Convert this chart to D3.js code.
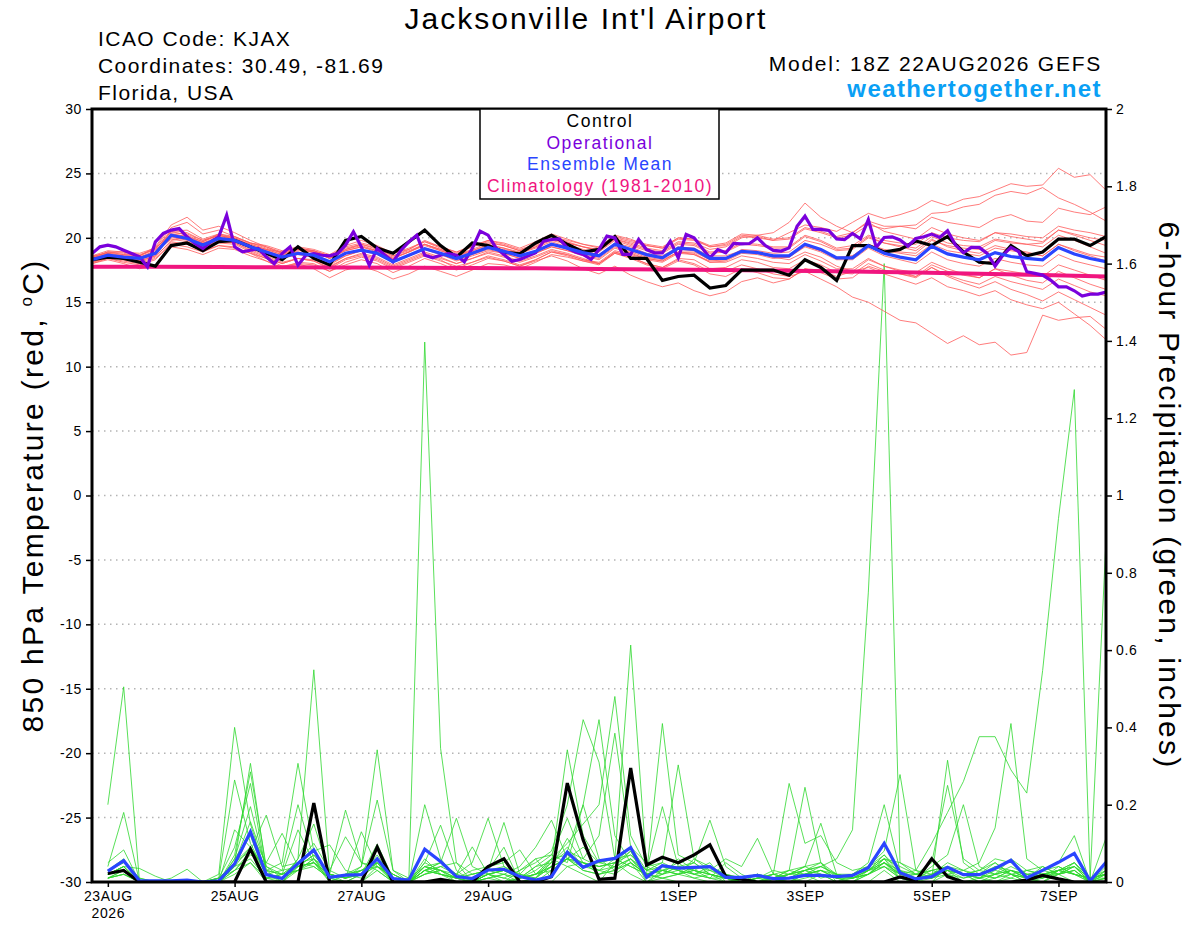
<!DOCTYPE html>
<html lang="en">
<head>
<meta charset="UTF-8">
<title>Jacksonville Int'l Airport - GEFS meteogram</title>
<script src="https://d3js.org/d3.v7.min.js"></script>
<style>
  body { margin: 0; background: #fff; }
  svg { display: block; font-family: "Liberation Sans", Arial, Helvetica, sans-serif; }
  .tick text { font-size: 14px; fill: #000; letter-spacing: 0.6px; }
  .tick line { stroke: #000; stroke-width: 1.5; }
</style>
</head>
<body>
<svg id="chart" width="1200" height="927"></svg>
<script>
// ---------------- data ----------------
const runTime = "2026-08-22T18:00Z";
const tickDates = ["2026-08-23", "2026-08-25", "2026-08-27", "2026-08-29",
                   "2026-09-01", "2026-09-03", "2026-09-05", "2026-09-07"];
const tempTicks = [-30, -25, -20, -15, -10, -5, 0, 5, 10, 15, 20, 25, 30];
const precipTicks = [0, 0.2, 0.4, 0.6, 0.8, 1, 1.2, 1.4, 1.6, 1.8, 2];
const legendItems = ["Control", "Operational", "Ensemble Mean", "Climatology (1981-2010)"];

// 850 hPa temperature, 6-hourly from 18Z 22AUG (65 values)
const tempControl = [
  18.3,18.5,18.4,18.1,17.8,19.4,19.6,19.0,19.7,19.8,
  19.3,18.8,18.3,19.3,18.4,17.9,19.8,20.1,19.2,18.8,
  19.7,20.6,19.4,18.5,19.6,19.4,18.9,18.75,19.6,20.2,
  19.5,18.9,19.1,20.1,18.4,18.4,16.7,17.0,17.1,16.1,
  16.3,17.5,17.5,17.5,17.1,18.3,17.7,16.7,19.4,19.4,
  18.9,19.1,19.75,19.4,20.1,18.9,18.1,18.0,19.4,18.6,
  18.9,19.9,19.9,19.4,20.1];
const tempMean = [
  18.3,18.65,18.5,18.4,18.8,20.2,19.95,19.45,19.95,19.8,
  19.3,18.9,18.5,18.8,18.65,18.15,18.8,19.05,18.8,18.15,
  18.65,19.15,18.8,18.4,18.8,19.25,18.95,18.6,18.95,19.5,
  19.2,18.85,18.6,19.5,19.1,18.7,18.45,19.2,19.1,18.4,
  18.4,18.95,18.85,18.6,18.6,19.5,19.1,18.45,18.45,19.4,
  18.8,18.5,18.3,19.35,18.75,18.5,18.3,18.85,18.55,18.4,
  18.3,19.25,18.75,18.4,18.15];
// operational run, 3-hourly (129 values)
const tempOper = [
  18.78,19.3,19.43,19.3,19.04,18.78,18.53,17.75,19.69,20.34,
  20.6,20.72,20.08,19.56,19.17,19.69,20.08,21.76,19.3,18.91,
  19.04,19.17,18.53,18.0,18.78,19.3,17.88,18.65,18.78,18.65,
  18.6,18.78,19.43,20.47,19.3,17.88,19.17,18.65,18.14,19.04,
  19.69,20.21,18.65,18.45,18.65,18.78,18.65,18.14,19.17,20.52,
  20.21,19.22,18.7,18.19,18.32,18.58,18.84,19.74,19.87,19.92,
  19.22,18.89,18.71,18.32,19.09,20.13,20.0,18.71,18.71,19.87,
  19.09,18.84,18.84,19.74,18.45,20.26,20.0,19.22,18.45,19.09,
  18.84,19.56,19.53,19.56,20.0,19.4,19.02,18.97,19.22,20.9,
  21.68,20.65,20.65,20.57,19.92,19.87,20.34,19.92,21.42,19.26,
  20.03,20.08,19.83,19.36,19.95,20.08,20.29,20.03,20.55,19.44,
  18.84,19.26,19.26,18.79,17.81,18.66,19.26,18.92,17.37,17.24,
  17.11,16.72,16.2,16.2,15.89,15.48,15.63,15.63,15.79];
// climatology, daily from 18Z 22AUG (17 values)
const tempClimo = [17.76,17.75,17.73,17.72,17.7,17.68,17.66,17.63,17.59,
                   17.55,17.5,17.45,17.39,17.31,17.22,17.12,17.0];
// ensemble members, 6-hourly (65 values each)
const tempMembers = [
  [18.5,18.9,18.8,18.6,19.2,20.8,21.2,20.3,20.6,20.1, 19.6,19.4,19.0,19.3,19.1,18.7,19.4,19.8,19.4,18.8,
   19.1,19.8,19.3,18.9,19.4,19.8,19.6,19.2,19.7,20.3, 19.9,19.5,19.3,20.2,19.9,19.4,19.2,20.0,19.9,19.3,
   19.5,20.2,20.1,19.8,20.4,21.0,20.8,20.5,21.2,21.9, 21.5,21.8,22.2,22.9,22.5,23.0,23.2,23.7,24.2,24.0,
   24.1,25.4,24.7,24.9,23.7],
  [18.0,18.4,18.1,17.9,18.3,19.6,19.5,19.0,19.4,19.2, 18.8,18.2,17.6,18.0,17.9,17.4,18.1,18.5,18.2,17.6,
   18.1,18.6,18.2,17.8,18.1,18.6,18.3,17.9,18.3,18.9, 18.6,18.2,17.9,18.8,18.5,18.0,17.7,18.3,18.0,17.4,
   17.4,17.9,17.6,17.2,17.0,17.4,16.8,16.2,15.4,15.0, 14.3,13.6,13.4,12.6,11.8,12.4,11.7,11.9,10.9,11.1,
   14.0,13.6,13.8,13.9,12.9],
  [18.6,18.8,18.3,18.2,18.6,20.4,20.3,19.8,20.2,19.9, 19.5,19.1,18.7,18.9,18.5,17.9,18.6,19.0,18.9,18.4,
   18.9,19.5,19.0,18.6,18.9,19.3,19.1,18.8,19.2,19.7, 19.3,19.0,18.7,19.6,19.3,18.8,18.6,19.3,19.2,18.6,
   18.6,19.0,18.8,18.5,18.3,18.9,18.5,17.8,17.4,17.7, 17.2,16.8,16.4,16.9,16.2,15.9,15.5,15.9,15.2,14.8,
   14.5,15.0,14.1,13.2,12.1],
  [18.1,18.5,18.6,18.5,18.9,19.9,19.7,19.3,19.7,19.6, 19.0,18.5,18.0,18.4,18.2,17.6,18.3,18.6,18.3,17.7,
   18.2,18.7,18.3,17.6,18.1,18.5,18.2,17.8,18.2,18.6, 18.2,17.6,17.2,17.8,17.1,16.6,16.2,16.5,15.9,15.5,
   15.8,16.6,16.9,16.5,16.8,17.6,17.5,17.0,17.4,18.3, 17.8,17.5,17.3,18.1,17.6,17.2,16.9,17.6,17.1,16.7,
   16.5,17.4,16.9,16.4,16.0],
  [18.4,18.7,18.4,18.3,18.9,20.5,20.6,19.9,20.3,20.0, 19.4,19.0,18.6,19.0,18.9,18.5,19.1,19.4,19.0,18.5,
   18.9,19.5,19.1,18.7,19.1,19.6,19.4,19.0,19.4,19.9, 19.6,19.3,19.0,19.9,19.6,19.2,19.0,19.7,19.6,19.1,
   19.3,20.0,20.2,20.4,21.2,22.7,21.6,20.9,20.4,21.2, 20.5,20.2,19.9,20.8,20.3,20.0,19.8,20.4,20.1,19.9,
   19.7,20.6,20.2,19.8,19.4],
  [18.2,18.8,18.7,18.6,19.3,21.0,21.6,20.6,20.9,20.4, 19.8,19.3,18.8,19.1,18.9,18.4,19.0,19.3,18.9,18.3,
   18.6,19.1,18.7,18.2,18.6,19.0,18.8,18.4,18.8,19.3, 19.0,18.6,18.3,19.2,18.8,18.4,18.2,18.9,18.8,18.1,
   18.2,18.8,18.7,18.4,18.5,19.4,19.0,18.4,18.6,19.5, 19.1,18.9,18.8,19.8,19.4,19.2,19.1,19.8,19.6,19.5,
   19.6,20.6,20.3,20.0,19.8],
  [18.0,18.3,18.0,17.6,17.9,19.3,19.1,18.7,19.2,19.1, 18.6,18.2,17.7,18.1,18.0,17.4,17.9,18.3,18.0,17.3,
   17.8,18.4,18.0,17.5,17.9,18.4,18.2,17.8,18.3,18.9, 18.7,18.3,18.1,19.0,18.7,18.4,18.2,18.9,18.9,18.3,
   18.4,19.1,19.0,18.8,18.9,19.8,19.5,19.0,19.1,20.0, 19.6,19.4,19.2,20.1,19.6,19.4,19.3,19.9,19.7,19.5,
   19.3,20.2,19.8,19.3,18.8],
  [18.5,18.6,18.3,18.1,18.5,19.8,20.0,19.6,19.9,19.7, 19.3,19.1,18.9,19.2,19.0,18.6,19.3,19.6,19.3,18.8,
   19.2,19.7,19.2,18.8,19.3,19.7,19.4,19.0,19.5,20.1, 19.8,19.5,19.2,20.1,19.8,19.5,19.3,20.0,19.9,19.4,
   19.6,20.3,20.2,19.9,20.0,20.8,20.5,20.1,20.4,21.3, 20.9,20.9,20.7,21.6,21.2,21.0,20.8,21.5,21.8,21.3,
   21.2,22.3,22.0,21.8,22.4],
  [18.3,18.6,18.4,18.3,18.7,20.1,19.8,19.3,19.8,19.6, 19.1,18.6,18.1,18.4,18.2,17.7,18.4,18.8,18.5,17.9,
   18.4,18.9,18.5,18.0,18.4,18.9,18.6,18.2,18.6,19.1, 18.8,18.4,18.0,18.9,18.5,18.0,17.7,18.4,18.3,17.6,
   17.7,18.3,18.1,17.7,17.6,18.3,17.9,17.3,17.2,18.0, 17.5,17.2,16.9,17.7,17.1,16.7,16.4,17.0,16.6,16.3,
   16.0,16.8,16.3,15.8,15.5],
  [18.4,18.8,18.6,18.5,19.0,20.3,20.1,19.6,20.1,19.9, 19.4,19.0,18.5,18.8,18.6,18.1,18.8,19.1,18.8,18.1,
   18.6,19.2,18.8,18.4,18.8,19.3,19.0,18.5,18.9,19.5, 19.1,18.8,18.5,19.4,19.0,18.6,18.4,19.1,19.0,18.3,
   18.3,18.9,18.8,18.5,18.5,19.3,18.9,18.3,18.3,19.2, 18.6,18.3,18.0,18.9,18.3,18.0,17.8,18.4,18.1,17.9,
   17.8,18.7,18.2,17.9,17.6],
  [18.6,19.0,18.9,18.7,19.1,20.5,20.2,19.7,20.2,20.0, 19.6,19.3,18.9,19.2,19.0,18.6,19.2,19.5,19.1,18.6,
   19.0,19.5,19.1,18.7,19.0,19.4,19.2,18.9,19.3,19.9, 19.6,19.3,19.1,20.0,19.7,19.4,19.2,19.9,19.8,19.3,
   19.4,20.1,20.0,19.8,19.9,20.7,20.4,20.0,20.2,21.0, 20.7,20.9,21.0,21.9,22.0,22.4,22.6,23.3,23.6,23.4,
   23.9,23.1,22.6,22.0,21.3],
  [18.2,18.5,18.4,18.2,18.6,19.7,19.5,19.1,19.6,19.5, 18.9,18.4,17.8,18.0,17.6,16.9,17.5,17.8,17.4,16.8,
   17.2,17.8,17.4,17.0,17.5,18.0,17.9,17.6,18.1,18.7, 18.5,18.2,18.0,18.9,18.6,18.3,18.1,18.8,18.7,18.2,
   18.3,18.9,18.8,18.6,18.6,19.4,19.0,18.5,18.6,19.4, 19.0,18.8,18.6,19.5,19.0,18.8,18.6,19.2,19.0,18.8,
   18.6,19.5,19.1,18.7,18.5],
  [18.4,18.9,18.7,18.6,19.1,20.6,20.4,19.8,20.2,19.9, 19.5,19.1,18.7,19.1,19.0,18.4,19.0,19.3,19.0,18.4,
   18.9,19.4,19.0,18.6,19.0,19.5,19.2,18.8,19.3,19.8, 19.5,19.1,18.9,19.8,19.4,19.0,18.8,19.5,19.4,18.8,
   18.9,19.5,19.4,19.2,19.2,20.1,19.7,19.1,19.2,20.1, 19.6,19.3,19.0,19.9,19.3,19.0,18.8,19.4,19.1,18.9,
   18.6,19.5,19.0,18.6,18.2],
  [18.1,18.4,18.2,18.0,18.4,19.5,19.3,18.9,19.4,19.3, 18.8,18.4,18.0,18.4,18.3,17.8,18.4,18.7,18.4,17.8,
   18.3,18.8,18.4,18.0,18.4,18.8,18.5,18.1,18.5,19.0, 18.7,18.3,18.0,18.8,18.4,17.9,17.6,18.2,17.9,17.2,
   17.0,17.6,17.3,16.9,16.8,17.6,17.3,16.8,16.9,17.8, 17.4,17.2,17.0,17.9,17.4,17.1,16.9,17.6,17.4,17.2,
   17.0,17.9,17.5,17.1,16.7],
  [18.5,18.9,18.9,18.8,19.2,20.3,20.1,19.7,20.3,20.1, 19.6,19.2,18.8,19.1,18.9,18.4,19.1,19.5,19.2,18.6,
   19.1,19.7,19.3,18.9,19.3,19.8,19.5,19.1,19.5,20.1, 19.7,19.3,19.0,19.9,19.5,19.1,18.9,19.6,19.5,18.9,
   19.0,19.6,19.5,19.3,19.3,20.2,19.8,19.2,19.4,20.2, 19.8,19.6,19.5,20.4,20.0,19.8,19.7,20.4,20.3,20.1,
   20.0,20.9,20.6,20.4,20.1],
  [18.3,18.6,18.5,18.4,18.8,20.0,19.9,19.4,19.8,19.7, 19.2,18.8,18.4,18.7,18.5,18.0,18.6,19.0,18.7,18.1,
   18.6,19.1,18.7,18.3,18.7,19.1,18.8,18.4,18.8,19.3, 19.0,18.7,18.4,19.3,18.9,18.5,18.3,18.9,18.7,18.1,
   18.1,18.6,18.4,18.1,18.0,18.7,18.2,17.6,17.6,18.4, 17.8,17.4,17.0,17.7,17.0,16.5,16.1,16.6,16.0,15.6,
   15.1,15.8,15.2,14.6,14.0]
];

// 6-hour precipitation (inches), periods ending 00Z 23AUG .. 18Z 07SEP (64 values)
const precipControl = [
  .022,.03,0,0,0,0,0,0,0,.085,0,0,0,.204,0,0,
  0,.09,0,0,0,.007,0,0,.04,.06,0,0,.014,.256,.109,.007,
  .01,.295,.044,.064,.05,.07,.096,.014,.007,0,0,0,0,0,0,0,
  0,0,.013,.003,.06,.014,0,0,0,0,.005,.017,.008,0,0,0];
const precipMean = [
  .028,.055,.003,.003,.003,.005,0,.003,.047,.13,.019,.009,.048,.083,.012,.018,
  .019,.06,.009,.005,.085,.053,.014,.009,.031,.033,.014,.005,.014,.077,.038,.055,
  .061,.089,.012,.042,.036,.038,.04,.012,.012,.017,.009,.01,.017,.017,.014,.017,
  .037,.1,.024,.008,.014,.038,.019,.019,.035,.056,.011,.03,.051,.074,.003,.051];
const precipMembers = [
  [.2,.505,0,0,0,0,0,0,.02,.05,0,0,.03,.06,0,0,
   0,.04,0,.01,1.397,.346,.05,0,0,0,0,0,0,.04,.02,0,
   .05,.02,0,.01,0,0,0,0,0,0,0,0,.02,0,0,0,
   0,.03,0,0,0,.02,0,0,0,.01,0,0,.02,0,0,0],
  [.04,.18,0,0,0,0,0,.02,.40,.15,.02,0,.04,.05,0,.02,
   .01,.05,0,0,.05,.147,.03,0,.02,.01,0,0,.03,.06,.03,.02,
   .04,.08,0,.03,.02,.01,.02,0,0,.01,.02,.03,.245,.05,0,.01,
   .02,.06,.01,0,0,.04,.02,0,.02,.03,.01,0,.03,.02,0,.01],
  [.05,.083,0,0,0,0,0,0,.03,.08,.01,0,.06,.549,.02,0,
   0,.03,0,0,.03,.02,0,0,0,0,.03,.06,.01,.08,.2,.42,
   .12,.05,0,.02,.03,.01,0,0,0,0,0,.01,0,.02,0,0,
   .03,.05,.01,0,.02,.03,0,.01,.04,.02,0,.03,.05,.12,0,.02],
  [.03,.05,.01,0,0,0,0,0,.06,.12,.01,.02,.05,.08,.096,.03,
   .02,.06,.01,0,.02,.04,.02,0,.03,.09,0,.01,.06,.04,.05,.02,
   .03,.06,.01,.02,.04,.03,.05,0,.01,.02,.01,0,.01,.02,0,.02,
   .05,.2,.03,0,.01,.03,.02,0,.01,.02,0,.01,.03,.05,0,.03],
  [.02,.04,.035,.015,0,0,0,.01,.05,.09,.03,0,.04,.07,.02,.186,
   .05,.03,0,0,.04,.03,0,0,.01,0,.01,.02,.04,.113,.05,.03,
   .02,.05,.02,.04,.03,.02,.01,.05,.02,0,.01,.02,.03,.01,.02,.01,
   .03,.06,.04,.02,.01,.315,.05,.02,.01,.03,.01,0,.02,.04,0,.01],
  [.01,.02,0,0,.01,.033,0,0,.04,.06,.01,.01,.03,.05,.02,.01,
   .13,.04,.02,0,.06,.02,.01,0,.02,.03,.01,.04,.07,.05,.2,.06,
   .03,.05,.02,.01,.02,.03,.01,.01,0,.01,0,.02,.04,.05,.01,.02,
   .04,.08,.278,.03,.01,.02,.03,.01,0,.02,.01,.02,.03,.04,.01,.01],
  [.02,.03,0,0,0,0,0,.01,.264,.1,.02,.01,.05,.04,.01,0,
   .02,.05,.01,0,.2,.06,.01,0,.01,.02,0,.01,.05,.09,.04,.03,
   .06,.04,.02,.41,.07,.05,.02,.01,0,0,.01,0,.02,.03,.01,0,
   .02,.04,.01,0,.02,.03,.01,.02,.05,.02,.03,.04,.02,.03,0,.114],
  [.01,.03,0,0,0,0,0,0,.135,.09,.02,.03,.2,.06,.01,.02,
   .03,.04,.01,0,.03,.05,.02,.091,.02,0,.01,.03,.06,.07,.05,.04,
   .05,.09,.03,.05,.303,.06,.04,.02,0,.01,.03,.02,.04,.02,.01,0,
   .02,.05,.02,.01,.01,.04,.02,.03,.06,.05,.02,.03,.04,.02,.01,.02],
  [.02,.04,0,0,0,0,0,.01,.05,.307,.03,.02,.05,.1,.03,.01,
   .02,.07,.01,0,.04,.03,.02,.05,.165,.04,.01,.02,.03,.06,.09,.05,
   .04,.06,.03,.02,.04,.02,.03,.01,0,.02,.01,.03,.04,.152,.02,.01,
   .03,.06,.02,.01,.02,.05,.03,.02,.01,.03,.02,.01,.04,.02,0,.03],
  [.03,.05,.01,0,0,0,0,0,.07,.285,.04,.01,.06,.15,.02,.01,
   .03,.05,0,0,.03,.04,.05,.02,.03,.154,.02,.01,.04,.06,.04,.05,
   .06,.613,.04,.05,.03,.02,.04,.02,.01,0,.02,.01,.03,.04,.02,.02,
   .03,.07,.02,.02,.01,.03,.02,.01,.02,.01,.03,.02,.02,.04,.01,.02],
  [.02,.04,0,0,0,0,0,.01,.09,.255,.02,.01,.04,.05,.01,.02,
   .04,.342,.03,0,.05,.03,.01,0,.02,.03,.01,.02,.05,.08,.06,.12,
   .385,.09,.05,.03,.02,.06,.03,.02,.01,0,.01,.02,.03,.02,.01,.01,
   .02,.05,.03,.01,.02,.04,.03,.05,.14,.41,.06,.03,.02,.05,.01,.02],
  [.02,.03,0,0,0,0,0,0,.06,.195,.03,.02,.135,.05,.02,.01,
   .02,.04,.01,0,.03,.02,.01,.03,.04,.05,.083,.02,.04,.06,.03,.02,
   .03,.05,.02,.01,.02,.03,.02,.01,0,.01,.02,.01,.03,.04,.06,.135,
   .75,1.6,.05,.02,.03,.04,.02,.01,.03,.02,.01,.02,.03,.02,.01,.02],
  [.01,.03,0,0,0,0,0,0,.05,.156,.04,.02,.03,.06,.03,.117,
   .05,.04,.02,0,.03,.02,.01,.02,.03,.02,.04,.09,.16,.06,.05,.04,
   .05,.07,.03,.195,.04,.03,.02,.01,0,.01,.01,.02,.03,.05,.02,.01,
   .02,.05,.02,.03,.02,.04,.02,.01,.02,.06,.03,.02,.03,.05,.01,.02],
  [.03,.06,0,0,0,0,0,0,.04,.126,.05,.03,.04,.07,.02,.01,
   .04,.212,.03,.01,.04,.05,.02,.01,.02,.03,.01,.04,.05,.342,.12,.05,
   .06,.04,.02,.03,.05,.02,.01,0,.01,.02,0,.01,.02,.03,.01,.02,
   .04,.07,.03,.02,.05,.25,.06,.03,.02,.04,.02,.01,.03,.04,0,.02],
  [.02,.04,0,0,0,0,0,0,.05,.08,.173,.04,.05,.06,.02,.01,
   .02,.06,.02,0,.03,.05,.165,.04,.02,.01,.03,.05,.08,.2,.42,.31,
   .06,.07,.03,.04,.03,.05,.02,.01,0,.01,.02,.01,.02,.03,.02,.01,
   .03,.04,.02,.01,.03,.04,.02,.03,.05,.02,.01,.04,.02,.03,0,.04],
  [.01,.02,0,0,0,0,0,.01,.03,.07,.05,.126,.04,.05,.01,0,
   .02,.098,.01,0,.02,.03,.01,0,.01,.02,.01,.02,.06,.1,.15,.2,
   .48,.12,.04,.02,.06,.03,.02,.01,0,0,.01,.02,.02,.03,.01,.01,
   .02,.04,.01,.02,.03,.02,.01,.02,.04,.03,.02,.01,.02,.03,0,.01],
  [.02,.03,0,0,0,0,0,0,.04,.09,.03,.05,.307,.08,.02,.01,
   .03,.05,.01,0,.04,.02,.01,.02,.03,.04,.02,.06,.07,.165,.06,.04,
   .05,.08,.02,.03,.04,.05,.16,.04,.01,.02,.01,.03,.02,.04,.02,.01,
   .03,.05,.02,.01,.04,.07,.2,.04,.02,.03,.01,.02,.03,.02,.01,.03],
  [.01,.02,0,0,0,0,0,0,.03,.05,.01,.02,.03,.04,.01,.02,
   .03,.06,.01,0,.02,.03,.01,0,.02,.03,.02,.01,.04,.06,.05,.03,
   .04,.06,.02,.03,.02,.04,.03,.06,.04,.113,.02,.255,.1,.12,.05,.03,
   .04,.06,.05,.03,.1,.18,.26,.376,.376,.29,.23,.547,.94,1.274,.008,.885]
];

// ---------------- chart ----------------
const W = 1200, H = 927;
const margin = { top: 109, right: 94, bottom: 45, left: 92 };
const x0 = margin.left, x1 = W - margin.right, y0 = margin.top, y1 = H - margin.bottom;

const t0 = new Date(runTime);
const hoursAfter = h => new Date(t0.getTime() + h * 3600e3);

const x = d3.scaleUtc().domain([hoursAfter(0), hoursAfter(384)]).range([x0, x1]);
const yT = d3.scaleLinear().domain([-30, 30]).range([y1, y0]);
const yP = d3.scaleLinear().domain([0, 2]).range([y1, y0]);

const svg = d3.select("#chart");
svg.append("rect").attr("width", W).attr("height", H).attr("fill", "#fff");

svg.append("defs").append("clipPath").attr("id", "plot")
  .append("rect").attr("x", x0).attr("y", y0).attr("width", x1 - x0).attr("height", y1 - y0);

// dotted grid at temperature ticks
svg.append("g").selectAll("line")
  .data(tempTicks.filter(d => d > -30 && d < 30))
  .join("line")
  .attr("x1", x0).attr("x2", x1)
  .attr("y1", d => yT(d)).attr("y2", d => yT(d))
  .attr("stroke", "#b4b4b4").attr("stroke-width", 1.5)
  .attr("stroke-dasharray", "1.5,4.5");

const plot = svg.append("g").attr("clip-path", "url(#plot)");

const tempLine = stepH => d3.line().x((d, i) => x(hoursAfter(i * stepH))).y(d => yT(d));
const precipLine = d3.line().x((d, i) => x(hoursAfter(6 + i * 6))).y(d => yP(d));

// ensemble members
plot.append("g").selectAll("path").data(precipMembers).join("path")
  .attr("d", precipLine).attr("fill", "none")
  .attr("stroke", "#2fd82f").attr("stroke-width", 0.8);
plot.append("g").selectAll("path").data(tempMembers).join("path")
  .attr("d", tempLine(6)).attr("fill", "none")
  .attr("stroke", "#ff5a5a").attr("stroke-width", 0.8);

// climatology
plot.append("path").datum(tempClimo).attr("d", tempLine(24))
  .attr("fill", "none").attr("stroke", "#f0157f").attr("stroke-width", 4);

// precipitation control + mean
plot.append("path").datum(precipControl).attr("d", precipLine)
  .attr("fill", "none").attr("stroke", "#000").attr("stroke-width", 3.2);
plot.append("path").datum(precipMean).attr("d", precipLine)
  .attr("fill", "none").attr("stroke", "#2a45ff").attr("stroke-width", 3.2);

// temperature control, operational, mean
plot.append("path").datum(tempControl).attr("d", tempLine(6))
  .attr("fill", "none").attr("stroke", "#000").attr("stroke-width", 3.2);
plot.append("path").datum(tempOper).attr("d", tempLine(3))
  .attr("fill", "none").attr("stroke", "#7a00dc").attr("stroke-width", 3.2);
plot.append("path").datum(tempMean).attr("d", tempLine(6))
  .attr("fill", "none").attr("stroke", "#2a45ff").attr("stroke-width", 3.2);

// axes
svg.append("g").attr("transform", `translate(${x0},0)`)
  .call(d3.axisLeft(yT).tickValues(tempTicks).tickSize(6).tickPadding(4)
    .tickFormat(d => String(d)))
  .call(g => g.select(".domain").remove());

svg.append("g").attr("transform", `translate(${x1},0)`)
  .call(d3.axisRight(yP).tickValues(precipTicks).tickSize(6).tickPadding(4)
    .tickFormat(d => String(+d.toFixed(1))))
  .call(g => g.select(".domain").remove());

const dayFmt = d3.utcFormat("%-d"), monFmt = d3.utcFormat("%b");
const xAxis = svg.append("g").attr("transform", `translate(0,${y1})`)
  .call(d3.axisBottom(x).tickValues(tickDates.map(d => new Date(d + "T00:00Z")))
    .tickSize(5).tickPadding(4)
    .tickFormat(d => dayFmt(d) + monFmt(d).toUpperCase()))
  .call(g => g.select(".domain").remove());
xAxis.select(".tick text").append("tspan")
  .attr("x", 0).attr("dy", "1.2em").text("2026");

// frame
svg.append("rect").attr("x", x0).attr("y", y0)
  .attr("width", x1 - x0).attr("height", y1 - y0)
  .attr("fill", "none").attr("stroke", "#000").attr("stroke-width", 3);

// legend
const legendColors = ["#000", "#7a00dc", "#2a45ff", "#f0157f"];
const legend = svg.append("g");
legend.append("rect").attr("x", 480).attr("y", y0).attr("width", 239).attr("height", 90)
  .attr("fill", "#fff").attr("stroke", "#000").attr("stroke-width", 1.5);
legend.selectAll("text").data(legendItems).join("text")
  .attr("x", 600).attr("y", (d, i) => 127 + i * 21.7)
  .attr("text-anchor", "middle").attr("font-size", 17.5).attr("letter-spacing", 1.5)
  .attr("fill", (d, i) => legendColors[i]).text(d => d);

// titles and header
svg.append("text").attr("x", 586).attr("y", 29).attr("text-anchor", "middle")
  .attr("font-size", 30).attr("letter-spacing", 2).text("Jacksonville Int'l Airport");

const headLeft = ["ICAO Code: KJAX", "Coordinates: 30.49, -81.69", "Florida, USA"];
svg.append("g").selectAll("text").data(headLeft).join("text")
  .attr("x", 98).attr("y", (d, i) => 46 + i * 26.8)
  .attr("font-size", 21).attr("letter-spacing", 1.45).text(d => d);

svg.append("text").attr("x", 1102).attr("y", 71).attr("text-anchor", "end")
  .attr("font-size", 21).attr("letter-spacing", 1.75).text("Model: 18Z 22AUG2026 GEFS");
svg.append("text").attr("x", 1102).attr("y", 97).attr("text-anchor", "end")
  .attr("font-size", 24).attr("font-weight", "bold").attr("letter-spacing", 1.4)
  .attr("fill", "#0aa0f5").text("weathertogether.net");

// axis titles
const leftTitle = svg.append("text")
  .attr("transform", `translate(43,${(y0 + y1) / 2}) rotate(-90)`)
  .attr("text-anchor", "middle").attr("font-size", 30).attr("letter-spacing", 2.3);
leftTitle.append("tspan").text("850 hPa Temperature (red, ");
leftTitle.append("tspan").attr("font-size", 17).attr("dy", -11).text("o");
leftTitle.append("tspan").attr("dy", 11).text("C)");

svg.append("text")
  .attr("transform", `translate(1159,${(y0 + y1) / 2}) rotate(90)`)
  .attr("text-anchor", "middle").attr("font-size", 30).attr("letter-spacing", 2.2)
  .text("6-hour Precipitation (green, inches)");
</script>
</body>
</html>
